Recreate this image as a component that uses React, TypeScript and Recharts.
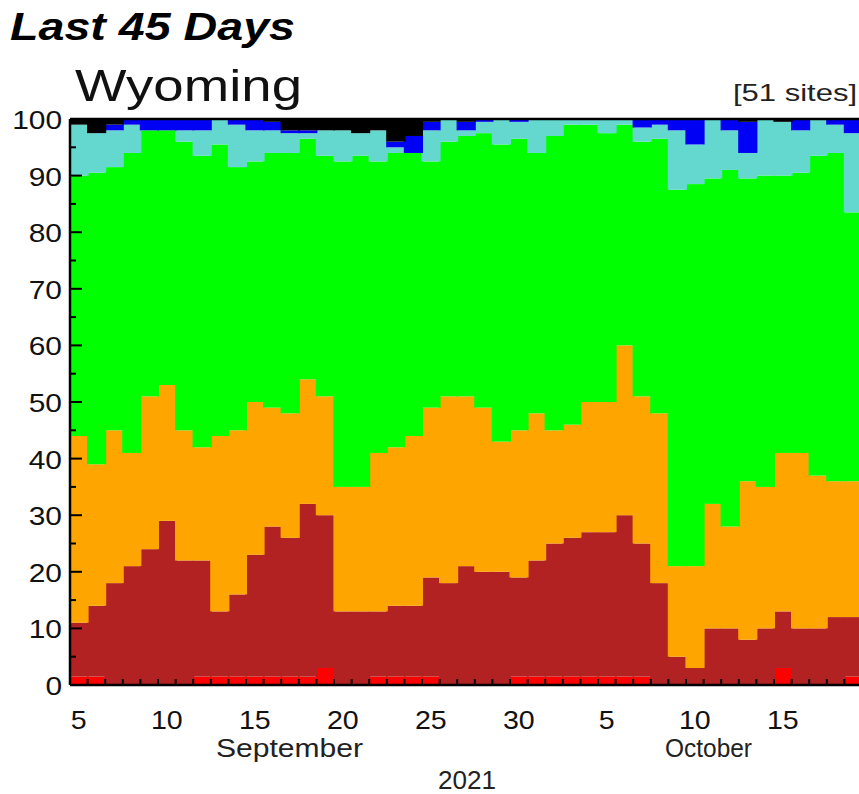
import { BarChart, Bar, XAxis, YAxis, ReferenceLine } from 'recharts';

// day of month, Sept 5 .. Oct 19 2021
const days = [
  5, 6, 7, 8, 9, 10, 11, 12, 13, 14, 15, 16, 17, 18, 19, 20, 21, 22, 23, 24, 25, 26, 27, 28, 29, 30,
  1, 2, 3, 4, 5, 6, 7, 8, 9, 10, 11, 12, 13, 14, 15, 16, 17, 18, 19
];

// percent of sites in each class, bottom to top
const lowPct = [1.5, 1.5, 0, 0, 0, 0, 0, 1.5, 1.5, 1.5, 1.5, 1.5, 1.5, 1.5, 3, 0, 0, 1.5, 1.5, 1.5, 1.5, 0, 0, 0, 0, 1.5, 1.5, 1.5, 1.5, 1.5, 1.5, 1.5, 1.5, 0, 0, 0, 0, 0, 0, 0, 3, 0, 0, 0, 1.5];
const below10 = [9.5, 12.5, 18, 21, 24, 29, 22, 20.5, 11.5, 14.5, 21.5, 26.5, 24.5, 30.5, 27, 13, 13, 11.5, 12.5, 12.5, 17.5, 18, 21, 20, 20, 17.5, 20.5, 23.5, 24.5, 25.5, 25.5, 28.5, 23.5, 18, 5, 3, 10, 10, 8, 10, 10, 10, 10, 12, 10.5];
const pct10to24 = [33, 25, 27, 20, 27, 24, 23, 20, 31, 29, 27, 21, 22, 22, 21, 22, 22, 28, 28, 30, 30, 33, 30, 29, 23, 26, 26, 20, 20, 23, 23, 30, 26, 30, 16, 18, 22, 18, 28, 25, 28, 31, 27, 24, 24];
const pct25to75 = [46, 51.5, 46.5, 53, 47, 45, 51, 51.5, 51.5, 46.5, 42.5, 45, 46, 42.5, 42.5, 57.5, 58.5, 51.5, 52, 50, 43.5, 45, 46, 48.5, 52.5, 51.5, 46, 52, 53, 49, 47.5, 39, 45, 48.5, 66.5, 67.5, 57.5, 63, 53.5, 55, 49, 49.5, 56.5, 58, 47.5];
const pct76to90 = [9, 7, 6.5, 5, 0, 0, 2, 4.5, 4.5, 7.5, 5.5, 4, 3.5, 1, 4.5, 5.5, 4, 5.5, 1, 0, 5.5, 4, 1, 2, 4.5, 3, 6, 3, 1, 1, 2.5, 1, 2.5, 2.5, 10.5, 7, 10.5, 7, 4.5, 10, 9.5, 7.5, 6.5, 5, 14];
const above90 = [0, 0, 1, 1, 2, 2, 2, 2, 0, 1, 2, 1.5, 0.5, 0.5, 0, 0, 0, 0, 1, 3, 1.5, 0, 1.5, 0.5, 0, 0.5, 0, 0, 0, 0, 0, 0, 1.5, 1, 2, 4.5, 0, 2, 5.5, 0, 0, 2, 0, 1, 2.5];
const highPct = [1, 2.5, 1, 0, 0, 0, 0, 0, 0, 0, 0, 0.5, 2, 2, 2, 2, 2.5, 2, 4, 3, 0.5, 0, 0.5, 0, 0, 0, 0, 0, 0, 0, 0, 0, 0, 0, 0, 0, 0, 0, 0.5, 0, 0.5, 0, 0, 0, 0];

const yTicks = [0, 5, 10, 15, 20, 25, 30, 35, 40, 45, 50, 55, 60, 65, 70, 75, 80, 85, 90, 95, 100];

const data = days.map((d, i) => ({
  key: i,
  day: d,
  low: lowPct[i],
  b10: below10[i],
  p10: pct10to24[i],
  p25: pct25to75[i],
  p76: pct76to90[i],
  a90: above90[i],
  high: highPct[i]
}));

const font = '"Liberation Sans", Arial, sans-serif';

// widen each block a little so neighbouring days touch
function Block(p: any) {
  if (!p.height || p.height <= 0) return null;
  return <rect x={p.x - 0.6} y={p.y} width={p.width + 1.2} height={p.height} fill={p.fill} />;
}

function YLabel(props: any) {
  const { x, y, payload } = props;
  const v = payload.value;
  if (v % 10 !== 0) return null;
  return (
    <text
      transform={`translate(${x},${y + 10}) scale(1.15,1)`}
      textAnchor='end'
      fontSize={26}
      fontFamily={font}
      fill='#111'
    >
      {v}
    </text>
  );
}

function XLabel(props: any) {
  const { x, y, payload } = props;
  const d = days[payload.index];
  if (d % 5 !== 0) return null;
  return (
    <text
      transform={`translate(${x},${y + 44}) scale(1.1,1)`}
      textAnchor='middle'
      fontSize={26}
      fontFamily={font}
      fill='#111'
    >
      {d}
    </text>
  );
}

// short inward tick marks drawn as reference lines so they sit over the blocks
function YTickMark(v: number) {
  return (p: any) => {
    const len = v % 10 === 0 ? 12 : 6;
    const x0 = Math.min(p.x1, p.x2);
    return <line x1={x0} x2={x0 + len} y1={p.y1} y2={p.y1} stroke='#000' strokeWidth={2} />;
  };
}

function XTickMark(p: any) {
  const y0 = Math.max(p.y1, p.y2);
  return <line x1={p.x1} x2={p.x1} y1={y0} y2={y0 - 6} stroke='#000' strokeWidth={2} />;
}

export default function App() {
  return (
    <div style={{ position: 'absolute', left: 0, top: 0, width: 859, height: 794, overflow: 'hidden', background: '#fff' }}>
      <BarChart
        width={880}
        height={794}
        data={data}
        margin={{ top: 119, right: 18, bottom: 0, left: 0 }}
        barCategoryGap={0}
        barGap={0}
      >
        <XAxis
          dataKey='key'
          height={109}
          interval={0}
          tickSize={0}
          tickMargin={0}
          tick={<XLabel />}
          axisLine={{ stroke: '#000', strokeWidth: 2.5 }}
          tickLine={false}
        />
        <YAxis
          width={70}
          domain={[0, 100]}
          ticks={yTicks}
          interval={0}
          tickSize={0}
          tickMargin={8}
          tick={<YLabel />}
          axisLine={{ stroke: '#000', strokeWidth: 2.5 }}
          tickLine={false}
        />
        <Bar dataKey='low' stackId='a' fill='#ff0000' shape={<Block />} isAnimationActive={false} />
        <Bar dataKey='b10' stackId='a' fill='#b22222' shape={<Block />} isAnimationActive={false} />
        <Bar dataKey='p10' stackId='a' fill='#ffa500' shape={<Block />} isAnimationActive={false} />
        <Bar dataKey='p25' stackId='a' fill='#00ff00' shape={<Block />} isAnimationActive={false} />
        <Bar dataKey='p76' stackId='a' fill='#64d8ce' shape={<Block />} isAnimationActive={false} />
        <Bar dataKey='a90' stackId='a' fill='#0000f4' shape={<Block />} isAnimationActive={false} />
        <Bar dataKey='high' stackId='a' fill='#000000' shape={<Block />} isAnimationActive={false} />
        {yTicks.map((v) => (
          <ReferenceLine key={`y${v}`} y={v} shape={YTickMark(v)} />
        ))}
        {data.map((r) => (
          <ReferenceLine key={`x${r.key}`} x={r.key} position='start' shape={XTickMark} />
        ))}
        <ReferenceLine y={100} stroke='#000' strokeWidth={2.5} />
      </BarChart>
      <svg
        width={859}
        height={794}
        style={{ position: 'absolute', left: 0, top: 0, pointerEvents: 'none' }}
      >
        <text x={10} y={40} fontSize={38} fontWeight='bold' fontStyle='italic' fontFamily={font} textLength={285} lengthAdjust='spacingAndGlyphs' fill='#000'>
          Last 45 Days
        </text>
        <text x={75} y={101} fontSize={44} fontFamily={font} textLength={227} lengthAdjust='spacingAndGlyphs' fill='#111'>
          Wyoming
        </text>
        <text x={733} y={101} fontSize={24} fontFamily={font} textLength={124} lengthAdjust='spacingAndGlyphs' fill='#222'>
          [51 sites]
        </text>
        <text x={216} y={757} fontSize={26} fontFamily={font} textLength={147} lengthAdjust='spacingAndGlyphs' fill='#222'>
          September
        </text>
        <text x={665} y={757} fontSize={26} fontFamily={font} textLength={87} lengthAdjust='spacingAndGlyphs' fill='#222'>
          October
        </text>
        <text x={438} y={789} fontSize={26} fontFamily={font} textLength={58} lengthAdjust='spacingAndGlyphs' fill='#222'>
          2021
        </text>
      </svg>
    </div>
  );
}
